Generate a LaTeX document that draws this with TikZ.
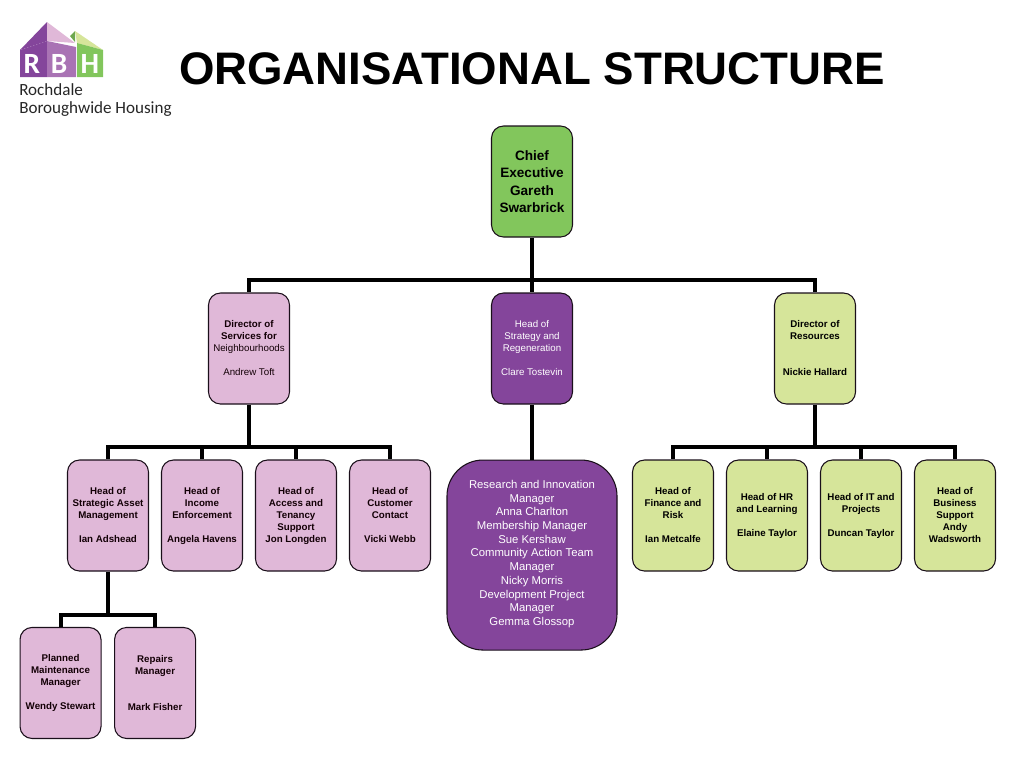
\documentclass[tikz,border=0pt]{standalone}
\usepackage{fontspec}
\setmainfont{Liberation Sans}
\newfontfamily\logofont{Carlito}
\usetikzlibrary{positioning}
\definecolor{pinkbox}{HTML}{E0B8D8}
\definecolor{purplebox}{HTML}{84459B}
\definecolor{greenbox}{HTML}{82C65C}
\definecolor{limebox}{HTML}{D6E59A}
\definecolor{boxline}{HTML}{1A0F1A}

\begin{document}
\begin{tikzpicture}[x=0.75pt,y=-0.75pt,node distance =125.25pt and 70.5pt,on grid,
post/.style ={draw=boxline,line width=0.8pt,rounded corners=9pt,minimum width=60.75pt,
minimum height=83.25pt,inner sep=0pt,align=center,font=\fontsize{7.3}{9}\selectfont},
pinkpost/.style ={post,fill=pinkbox,text=black!90!purple},
boldpink/.style ={pinkpost,font=\fontsize{7.3}{9}\selectfont\bfseries},
limepost/.style ={post,fill=limebox,text=black,font=\fontsize{7.3}{9}\selectfont\bfseries},
logoletter/.style ={text=white,font=\logofont\fontsize{22}{22}\selectfont\bfseries},
logotext/.style ={anchor=west,inner sep=0pt,text=black!85,font=\logofont\fontsize{12.8}{14}\selectfont},
link/.style ={line width=3pt,black},
drop/.style ={line width=2.4pt,black}]
\useasboundingbox (0,0) rectangle (1024,768);

% logo
\fill[purplebox] (20,50) -- (47,22) -- (47,41) -- cycle;
\fill[pinkbox] (47,22) -- (75,43) -- (47,41) -- cycle;
\fill[purplebox] (20,50) -- (47,41) -- (47,77) -- (20,77) -- cycle;
\fill[purplebox!60!pinkbox] (47,41) -- (76,47) -- (76,77) -- (47,77) -- cycle;
\fill[greenbox!85!black] (70,36) -- (75,31) -- (75,42) -- cycle;
\fill[limebox] (75,31) -- (103,50) -- (77,43) -- cycle;
\fill[greenbox] (77,43) -- (103,50) -- (103,77) -- (77,77) -- cycle;
\node[logoletter] (logoR) at (32,64) {R};
\node[logoletter] (logoB) at (59,64) {B};
\node[logoletter] (logoH) at (90,64) {H};
\node[logotext] (logoA) at (19,90) {Rochdale};
\node[logotext] (logoC) at (19,109) {Boroughwide Housing};

\node[font=\fontsize{34.2}{36}\selectfont\bfseries] (title) at (532,69) {ORGANISATIONAL STRUCTURE};

% top
\node[post,fill=greenbox,text=black,font=\fontsize{10.2}{13}\selectfont\bfseries] (A) at (532,181.5) {Chief\\Executive\\Gareth\\Swarbrick};

% second row
\node[post,fill=purplebox,text=white] (B2) [below =of A] {Head of\\Strategy and\\Regeneration\\[9pt]Clare Tostevin};
\node[pinkpost] (B1) [left =212.25pt of B2] {\textbf{Director of}\\\textbf{Services for}\\Neighbourhoods\\[9pt]Andrew Toft};
\node[post,fill=limebox,text=black] (B3) [right =212.25pt of B2] {\textbf{Director of}\\\textbf{Resources}\\[18pt]\textbf{Nickie Hallard}};

% third row, left
\node[boldpink] (C1) [below left =125.25pt and 105.75pt of B1] {Head of\\Strategic Asset\\Management\\[9pt]Ian Adshead};
\node[boldpink] (C2) [right =of C1] {Head of\\Income\\Enforcement\\[9pt]Angela Havens};
\node[boldpink] (C3) [right =of C2] {Head of\\Access and\\Tenancy\\Support\\Jon Longden};
\node[boldpink] (C4) [right =of C3] {Head of\\Customer\\Contact\\[9pt]Vicki Webb};

% big box
\node[post,fill=purplebox,text=white,rounded corners=27pt,minimum width=127.5pt,minimum height=142.5pt,
font=\fontsize{8.5}{10.3}\selectfont] (C5) [below =154.9pt of B2] {Research and Innovation\\Manager\\Anna Charlton\\Membership Manager\\Sue Kershaw\\Community Action Team\\Manager\\Nicky Morris\\Development Project\\Manager\\Gemma Glossop\\[-7pt]\mbox{}};

% third row, right
\node[limepost] (C6) [below left =125.25pt and 106.5pt of B3] {Head of\\Finance and\\Risk\\[9pt]Ian Metcalfe};
\node[limepost] (C7) [right =of C6] {Head of HR\\and Learning\\[9pt]Elaine Taylor};
\node[limepost] (C8) [right =of C7] {Head of IT and\\Projects\\[9pt]Duncan Taylor};
\node[limepost] (C9) [right =of C8] {Head of\\Business\\Support\\Andy\\Wadsworth};

% fourth row
\node[boldpink] (D1) [below left =125.6pt and 35.6pt of C1] {Planned\\Maintenance\\Manager\\[9pt]Wendy Stewart};
\node[boldpink] (D2) [right =70.9pt of D1] {Repairs\\Manager\\[18pt]Mark Fisher};

% connectors
\coordinate[below =73.9pt of A] (busA);
\coordinate[below =73.9pt of B1] (busB);
\coordinate[below =73.9pt of B3] (busC);
\coordinate[below =74.6pt of C1] (busD);
\draw[link] (A) -- (B2);
\draw[link] (B1) -- (busB);
\draw[link] (B3) -- (busC);
\draw[link] (C1) -- (busD);
\draw[drop] (B2) -- (C5);
\draw[link] (busA) -| (B1);
\draw[link] (busA) -| (B3);
\draw[link] (busB) -| (C1);
\draw[link] (busB) -| (C4);
\draw[link] (busB) -| (C2);
\draw[link] (busB) -| (C3);
\draw[link] (busC) -| (C6);
\draw[link] (busC) -| (C7);
\draw[link] (busC) -| (C8);
\draw[link] (busC) -| (C9);
\draw[link] (busD) -| (D1);
\draw[link] (busD) -| (D2);
\end{tikzpicture}
\end{document}
